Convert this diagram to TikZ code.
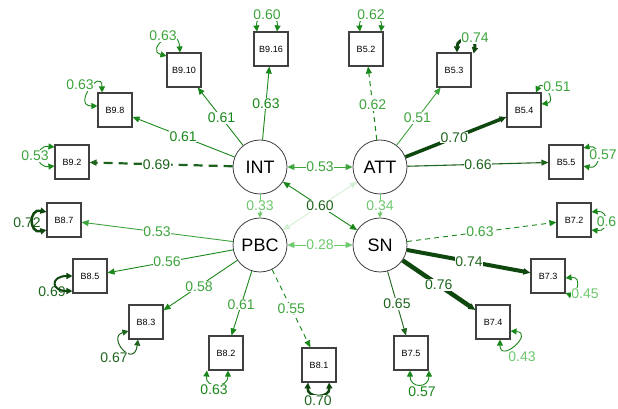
\documentclass[tikz,border=0pt]{standalone}
\usepackage{fontspec}
\setmainfont{Liberation Sans}
\usetikzlibrary{arrows.meta,calc}
\definecolor{gA}{RGB}{212,240,212}
\definecolor{gB}{RGB}{110,200,110}
\definecolor{gC}{RGB}{60,165,60}
\definecolor{gD}{RGB}{25,135,25}
\definecolor{gE}{RGB}{30,100,30}
\definecolor{gF}{RGB}{15,72,15}
\tikzset{
 lv/.style={circle,draw=black!75,line width=0.8pt,minimum size=54pt,inner sep=0pt,fill=white,font=\fontsize{18}{18}\selectfont},
 ind/.style={rectangle,draw=black!75,line width=1.1pt,minimum size=34pt,inner sep=0pt,fill=white,font=\fontsize{9}{9}\selectfont},
 lab/.style={fill=white,inner sep=0.6pt,font=\fontsize{14}{14}\selectfont},
 elab/.style={inner sep=0.6pt,font=\fontsize{14}{14}\selectfont},
 ar/.style={-{Triangle[length=7pt,width=6pt]}},
 sar/.style={-{Triangle[length=5pt,width=5pt]}},
 dar/.style={{Triangle[length=7pt,width=6pt]}-{Triangle[length=7pt,width=6pt]}},
 lp/.style={{Triangle[length=6pt,width=6pt]}-{Triangle[length=6pt,width=6pt]}},
}
\begin{document}
\begin{tikzpicture}[x=1pt,y=1pt]
\useasboundingbox[fill=white] (0,0) rectangle (618,409);
% latent variables
\node[lv] (INT) at (260,242) {INT};
\node[lv] (ATT) at (380,242) {ATT};
\node[lv] (PBC) at (260,164) {PBC};
\node[lv] (SN)  at (380,164) {SN};
% indicators
\node[ind] (B916) at (271,360) {B9.16};
\node[ind] (B910) at (184,339) {B9.10};
\node[ind] (B98)  at (115,299) {B9.8};
\node[ind] (B92)  at (72,247) {B9.2};
\node[ind] (B87)  at (64,189) {B8.7};
\node[ind] (B85)  at (90,133) {B8.5};
\node[ind] (B83)  at (146,87) {B8.3};
\node[ind] (B82)  at (226,56) {B8.2};
\node[ind] (B81)  at (319,44) {B8.1};
\node[ind] (B75)  at (411,56) {B7.5};
\node[ind] (B74)  at (493,87) {B7.4};
\node[ind] (B73)  at (548,133) {B7.3};
\node[ind] (B72)  at (574,189) {B7.2};
\node[ind] (B55)  at (566,247) {B5.5};
\node[ind] (B54)  at (524,299) {B5.4};
\node[ind] (B53)  at (454,339) {B5.3};
\node[ind] (B52)  at (366,360) {B5.2};

% structural / correlation paths
\draw[dar,gA,line width=0.9pt] (PBC) -- (ATT);
\draw[dar,gD,line width=0.9pt] (INT) -- (SN);
\node[lab,text=gE] (c60) at ($(INT)!0.5!(SN)$) {0.60};
\draw[dar,gC,line width=0.9pt] (INT) -- (ATT);
\node[lab,text=gC] (c53) at ($(INT)!0.5!(ATT)$) {0.53};
\draw[dar,gB,line width=0.9pt] (PBC) -- (SN);
\node[lab,text=gB] (c28) at ($(PBC)!0.5!(SN)$) {0.28};
\draw[sar,gB,line width=0.9pt] (INT) -- (PBC);
\node[lab,inner sep=0pt,text=gB] (c33) at ($(INT)!0.5!(PBC)$) {0.33};
\draw[sar,gB,line width=0.9pt] (ATT) -- (SN);
\node[lab,inner sep=0pt,text=gB] (c34) at ($(ATT)!0.5!(SN)$) {0.34};

% loadings INT
\draw[ar,gD,line width=0.9pt] (INT) -- (B916);
\node[lab,text=gD] (l916) at ($(INT)!0.54!(B916)$) {0.63};
\draw[ar,gD,line width=0.9pt] (INT) -- (B910);
\node[lab,text=gD] (l910) at ($(INT)!0.505!(B910)$) {0.61};
\draw[ar,gD,line width=0.9pt] (INT) -- (B98);
\node[lab,text=gD] (l98) at ($(INT)!0.53!(B98)$) {0.61};
\draw[ar,gE,line width=2.2pt,dash pattern=on 9pt off 6pt] (INT) -- (B92);
\node[lab,text=gE] (l92) at ($(INT)!0.55!(B92)$) {0.69};
% loadings ATT
\draw[ar,gD,line width=1pt,dash pattern=on 5pt off 4pt] (ATT) -- (B52);
\node[lab,text=gC] (l52) at ($(ATT)!0.525!(B52)$) {0.62};
\draw[ar,gC,line width=0.9pt] (ATT) -- (B53);
\node[lab,text=gC] (l53) at ($(ATT)!0.505!(B53)$) {0.51};
\draw[ar,gF,line width=3.5pt] (ATT) -- (B54);
\node[lab,text=gE] (l54) at ($(ATT)!0.515!(B54)$) {0.70};
\draw[ar,gE,line width=1.1pt] (ATT) -- (B55);
\node[lab,text=gE] (l55) at ($(ATT)!0.527!(B55)$) {0.66};
% loadings PBC
\draw[ar,gC,line width=0.9pt] (PBC) -- (B87);
\node[lab,text=gC] (l87) at ($(PBC)!0.525!(B87)$) {0.53};
\draw[ar,gD,line width=0.9pt] (PBC) -- (B85);
\node[lab,text=gC] (l85) at ($(PBC)!0.547!(B85)$) {0.56};
\draw[ar,gD,line width=0.9pt] (PBC) -- (B83);
\node[lab,text=gC] (l83) at ($(PBC)!0.535!(B83)$) {0.58};
\draw[ar,gD,line width=0.9pt] (PBC) -- (B82);
\node[lab,text=gC] (l82) at ($(PBC)!0.555!(B82)$) {0.61};
\draw[ar,gD,line width=0.9pt,dash pattern=on 5pt off 4pt] (PBC) -- (B81);
\node[lab,text=gC] (l81) at ($(PBC)!0.53!(B81)$) {0.55};
% loadings SN
\draw[ar,gD,line width=0.9pt,dash pattern=on 5pt off 4pt] (SN) -- (B72);
\node[lab,text=gC] (l72) at ($(SN)!0.515!(B72)$) {0.63};
\draw[ar,gF,line width=4pt] (SN) -- (B73);
\node[lab,text=gE] (l73) at ($(SN)!0.53!(B73)$) {0.74};
\draw[ar,gF,line width=4.5pt] (SN) -- (B74);
\node[lab,text=gE] (l74) at ($(SN)!0.52!(B74)$) {0.76};
\draw[ar,gE,line width=0.9pt] (SN) -- (B75);
\node[lab,text=gE] (l75) at ($(SN)!0.546!(B75)$) {0.65};

% error variances (labels drawn first where the loop lies over them)
\node[elab,text=gE] (e87) at (27,186) {0.72};
\draw[lp,gF,line width=2.5pt] ($(B87.west)+(0,8)$) .. controls +(-18,4) and +(-18,-4) .. ($(B87.west)+(0,-10)$);
\node[elab,text=gE] (e85) at (52,117) {0.69};
\draw[lp,gF,line width=2pt] ($(B85.west)+(0,0)$) .. controls +(-22,0) and +(-22,0) .. ($(B85.west)+(0,-15)$);

\draw[lp,gD,line width=0.9pt] ($(B916.north)+(-14,0)$) .. controls +(-2,18) and +(2,18) .. ($(B916.north)+(6,0)$);
\node[lab,text=gC] (e916) at (267,394) {0.60};
\draw[lp,gD,line width=0.9pt] ($(B52.north)+(-6,0)$) .. controls +(-2,18) and +(2,18) .. ($(B52.north)+(15,0)$);
\node[lab,text=gC] (e52) at (371,394) {0.62};
\draw[lp,gD,line width=0.9pt] ($(B910.west)+(0,14)$) .. controls +(-22,6) and +(-2,30) .. ($(B910.north)+(-4,0)$);
\node[lab,text=gC] (e910) at (163,373) {0.63};
\draw[lp,gD,line width=0.9pt] ($(B98.west)+(0,4)$) .. controls +(-26,0) and +(0,26) .. ($(B98.north)+(-13,0)$);
\node[lab,text=gC] (e98) at (80,324) {0.63};
\draw[lp,gD,line width=0.9pt] ($(B92.west)+(0,15)$) .. controls +(-20,2) and +(-20,-2) .. ($(B92.west)+(0,-4)$);
\node[lab,text=gC] (e92) at (35,253) {0.53};
\draw[lp,gE,line width=1pt] ($(B83.west)+(0,-9)$) .. controls +(-22,-6) and +(-4,-30) .. ($(B83.south)+(-8,0)$);
\node[lab,text=gE] (e83) at (114,51) {0.67};
\draw[lp,gD,line width=0.9pt] ($(B82.south)+(-19,0)$) .. controls +(-2,-18) and +(0,-18) .. ($(B82.south)+(2,0)$);
\node[lab,text=gD] (e82) at (214,19) {0.63};
\draw[lp,gF,line width=2.5pt] ($(B81.south)+(-11,0)$) .. controls +(-1,-16) and +(1,-16) .. ($(B81.south)+(10,0)$);
\node[lab,text=gE] (e81) at (318,8) {0.70};
\draw[lp,gD,line width=0.9pt] ($(B75.south)+(-1,0)$) .. controls +(0,-18) and +(0,-18) .. ($(B75.south)+(18,0)$);
\node[lab,text=gD] (e75) at (422,17) {0.57};
\draw[lp,gD,line width=0.9pt] ($(B74.south)+(7,0)$) .. controls +(0,-24) and +(24,-2) .. ($(B74.east)+(0,-9)$);
\node[lab,text=gB] (e74) at (522,52) {0.43};
\draw[lp,gD,line width=0.9pt] ($(B73.east)+(0,-2)$) .. controls +(18,2) and +(10,-4) .. ($(B73.east)+(0,-17)$);
\node[lab,text=gB] (e73) at (585,115) {0.45};
\draw[lp,gD,line width=0.9pt] ($(B72.east)+(0,8)$) .. controls +(18,2) and +(18,-2) .. ($(B72.east)+(0,-10)$);
\node[lab,text=gC,anchor=west] (e72) at (596,187) {0.6};
\draw[lp,gD,line width=0.9pt] ($(B55.east)+(0,14)$) .. controls +(18,4) and +(18,-4) .. ($(B55.east)+(0,-4)$);
\node[lab,text=gC] (e55) at (603,254) {0.57};
\draw[lp,gD,line width=0.9pt] ($(B54.north)+(12,0)$) .. controls +(6,14) and +(16,2) .. ($(B54.east)+(0,6)$);
\node[lab,text=gC] (e54) at (557,322) {0.51};
\draw[lp,gF,line width=3pt] ($(B53.north)+(3,0)$) .. controls +(0,16) and +(4,16) .. ($(B53.north east)+(2,-1)$);
\node[lab,text=gC] (e53) at (475,371) {0.74};
\end{tikzpicture}
\end{document}
